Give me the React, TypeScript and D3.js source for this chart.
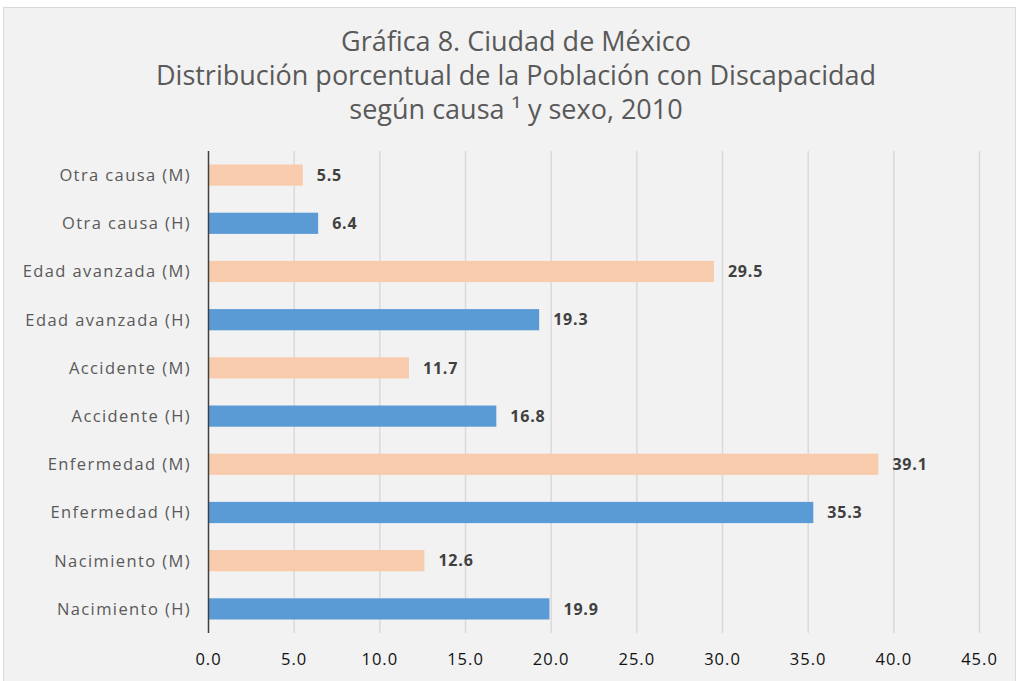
import React, { useEffect, useRef } from 'react';
import * as d3 from 'd3';

const categories = [
  'Otra causa (M)',
  'Otra causa (H)',
  'Edad avanzada (M)',
  'Edad avanzada (H)',
  'Accidente (M)',
  'Accidente (H)',
  'Enfermedad (M)',
  'Enfermedad (H)',
  'Nacimiento (M)',
  'Nacimiento (H)',
];
const values = [5.5, 6.4, 29.5, 19.3, 11.7, 16.8, 39.1, 35.3, 12.6, 19.9];
const sexes = ['M', 'H', 'M', 'H', 'M', 'H', 'M', 'H', 'M', 'H'];
const ticks = [0, 5, 10, 15, 20, 25, 30, 35, 40, 45];
const titleLines = [
  'Gráfica 8. Ciudad de México',
  'Distribución porcentual de la Población con Discapacidad',
  'según causa ¹ y sexo, 2010',
];

const W = 1016;
const H = 681;

const App: React.FC = () => {
  const svgRef = useRef<SVGSVGElement>(null);

  useEffect(() => {
    if (!svgRef.current) return;
    const svg = d3.select(svgRef.current);
    svg.selectAll('*').remove();

    svg.append('rect')
      .attr('x', 0).attr('y', 0).attr('width', W).attr('height', H)
      .attr('fill', '#ffffff');
    svg.append('rect')
      .attr('x', 3.5).attr('y', 7.5).attr('width', W - 4).attr('height', H)
      .attr('fill', '#f2f2f2')
      .attr('stroke', '#d9d9d9');

    // title
    const title = svg.append('text')
      .attr('text-anchor', 'middle')
      .style('font-family', '"Open Sans", sans-serif')
      .style('font-size', '27px')
      .attr('fill', '#595959');
    titleLines.forEach((t, i) => {
      title.append('tspan')
        .attr('x', 516)
        .attr('y', 51 + i * 34)
        .text(t);
    });

    const x = d3.scaleLinear().domain([0, 45]).range([208.5, 979.5]);
    const y = d3.scaleBand<string>().domain(categories).range([151, 633]).paddingInner(0.56).paddingOuter(0.28);

    // gridlines
    svg.append('g')
      .selectAll('line')
      .data(ticks.slice(1))
      .enter()
      .append('line')
      .attr('x1', d => x(d)).attr('x2', d => x(d))
      .attr('y1', 151).attr('y2', 633)
      .attr('stroke', '#d9d9d9')
      .attr('stroke-width', 1.5);

    // bars
    svg.append('g')
      .selectAll('rect')
      .data(categories)
      .enter()
      .append('rect')
      .attr('x', x(0))
      .attr('y', d => y(d)!)
      .attr('width', (_, i) => x(values[i]) - x(0))
      .attr('height', y.bandwidth())
      .attr('fill', (_, i) => (sexes[i] === 'M' ? '#f8cbad' : '#5b9bd5'));

    // value labels
    svg.append('g')
      .selectAll('text')
      .data(categories)
      .enter()
      .append('text')
      .attr('x', (_, i) => x(values[i]) + 14)
      .attr('y', d => y(d)! + y.bandwidth() / 2)
      .attr('dy', '0.36em')
      .style('font-family', '"Open Sans", sans-serif')
      .style('font-size', '16px')
      .style('font-weight', 'bold')
      .style('letter-spacing', '0.8px')
      .attr('fill', '#404040')
      .text((_, i) => values[i].toFixed(1));

    // category labels
    svg.append('g')
      .selectAll('text')
      .data(categories)
      .enter()
      .append('text')
      .attr('x', 191)
      .attr('y', d => y(d)! + y.bandwidth() / 2)
      .attr('dy', '0.36em')
      .attr('text-anchor', 'end')
      .style('font-family', '"Open Sans", sans-serif')
      .style('font-size', '16.5px')
      .style('letter-spacing', '1.4px')
      .attr('fill', '#595959')
      .text(d => d);

    // axis line
    svg.append('line')
      .attr('x1', x(0)).attr('x2', x(0))
      .attr('y1', 151).attr('y2', 633)
      .attr('stroke', '#404040')
      .attr('stroke-width', 1.5);

    // tick labels
    svg.append('g')
      .selectAll('text')
      .data(ticks)
      .enter()
      .append('text')
      .attr('x', d => x(d))
      .attr('y', 659)
      .attr('dy', '0.36em')
      .attr('text-anchor', 'middle')
      .style('font-family', '"Open Sans", sans-serif')
      .style('font-size', '16.5px')
      .style('letter-spacing', '1px')
      .attr('fill', '#111111')
      .text(d => d.toFixed(1));
  }, []);

  return <svg ref={svgRef} width={W} height={H} style={{ display: 'block', position: 'absolute', left: 0, top: 0 }} />;
};

export default App;
